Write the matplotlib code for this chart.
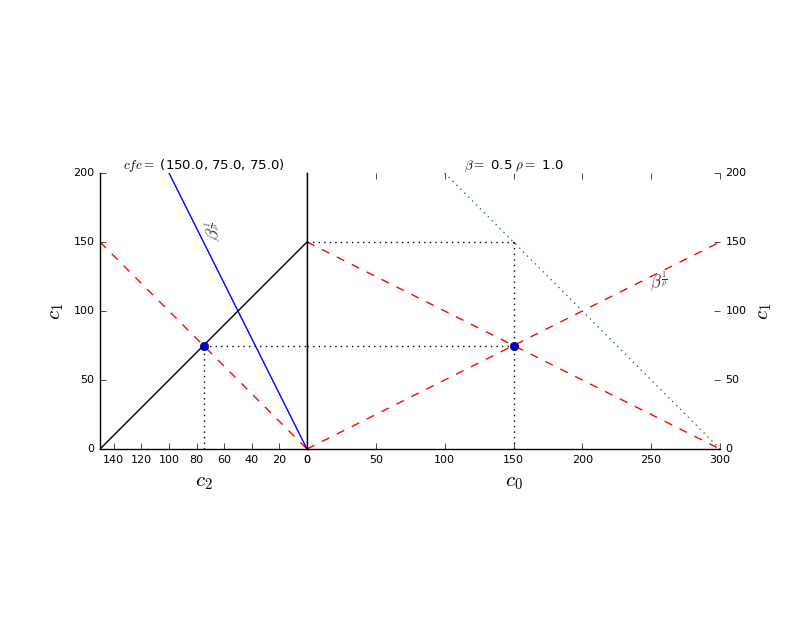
import numpy as np
import matplotlib
matplotlib.use('Agg')
import matplotlib.pyplot as plt

plt.style.use('classic')
plt.rcParams['figure.facecolor'] = 'white'
plt.rcParams['savefig.facecolor'] = 'white'

# consumption bundle and parameters
cfc = (150.0, 75.0, 75.0)
beta = 0.5
rho = 1.0

# left panel (c2 vs c1)
budget_c2 = [150, 0]
budget_c1 = [0, 150]
diag_c2 = [150, 0]
diag_c1 = [150, 0]
slope_c2 = [0, 100]
slope_c1 = [0, 200]

# right panel (c0 vs c1)
red1_c0 = [0, 300]
red1_c1 = [150, 0]
red2_c0 = [0, 300]
red2_c1 = [0, 150]
green_c0 = [100, 300]
green_c1 = [200, 0]

fig = plt.figure(figsize=(8, 6.4), dpi=100)
axL = fig.add_axes([0.125, 0.2984, 0.25875, 0.4313])
axR = fig.add_axes([0.38375, 0.2984, 0.51625, 0.4313])

# ---- left
axL.plot(budget_c2, budget_c1, color='k', lw=1)
axL.plot(diag_c2, diag_c1, 'r--', lw=1)
axL.plot(slope_c2, slope_c1, color='b', lw=1)
axL.plot([cfc[1], cfc[1]], [0, cfc[2]], 'k:', lw=1)
axL.plot([cfc[1], 0], [cfc[2], cfc[2]], 'k:', lw=1)
axL.plot([cfc[1]], [cfc[2]], 'o', color='#0000cc', ms=6, mec='#000066', mew=0.5)
axL.set_xlim(150, 0)
axL.set_ylim(0, 200)
axL.set_xticks([140, 120, 100, 80, 60, 40, 20, 0])
axL.set_yticks([0, 50, 100, 150, 200])
axL.spines['top'].set_visible(False)
axL.tick_params(top=False, right=False, labelsize=8)
axL.set_xlabel('$c_2$', fontsize=15)
axL.set_ylabel('$c_1$', fontsize=15)
axL.set_title('$cfc=$ (%.1f, %.1f, %.1f)' % cfc, fontsize=9.5, pad=3)
axL.text(68, 158, r'$\beta^{\frac{1}{\rho}}$', rotation=75, fontsize=12,
         ha='center', va='center', color='0.2')

# ---- right
axR.plot(red1_c0, red1_c1, 'r--', lw=1)
axR.plot(red2_c0, red2_c1, 'r--', lw=1)
axR.plot(green_c0, green_c1, ':', color='#2e7d32', lw=1)
axR.plot([0, cfc[0]], [cfc[0], cfc[0]], 'k:', lw=1)
axR.plot([cfc[0], cfc[0]], [0, cfc[0]], 'k:', lw=1)
axR.plot([0, cfc[0]], [cfc[2], cfc[2]], 'k:', lw=1)
axR.plot([cfc[0]], [cfc[2]], 'o', color='#0000cc', ms=6, mec='#000066', mew=0.5)
axR.set_xlim(0, 300)
axR.set_ylim(0, 200)
axR.set_xticks([0, 50, 100, 150, 200, 250, 300])
axR.set_yticks([0, 50, 100, 150, 200])
axR.spines['top'].set_visible(False)
axR.spines['right'].set_visible(False)
axR.yaxis.tick_right()
axR.yaxis.set_label_position('right')
axR.tick_params(top=True, left=False, labelsize=8)
axR.set_xlabel('$c_0$', fontsize=15)
axR.set_ylabel('$c_1$', fontsize=15)
axR.set_title(r'$\beta=$ %.1f $\rho=$ %.1f' % (beta, rho), fontsize=9.5, pad=3)
axR.text(256, 121, r'$\beta^{\frac{1}{\rho}}$', fontsize=12, ha='center',
         va='center', color='0.2')

fig.savefig('out.png', dpi=100)
